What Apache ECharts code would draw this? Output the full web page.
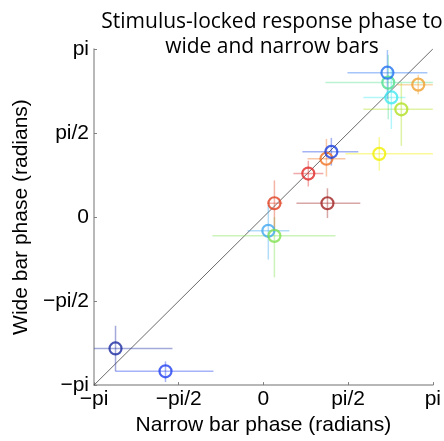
<!DOCTYPE html>
<html>
<head>
<meta charset="utf-8">
<script src="https://cdn.jsdelivr.net/npm/echarts@6/dist/echarts.min.js"></script>
<style>
  html, body { margin: 0; padding: 0; background: #fff; }
  #chart { width: 444px; height: 441px; }
</style>
</head>
<body>
<div id="chart"></div>
<script>
// phases in units of pi (axis runs -1..1 => -pi..pi)
var tickLabels = ['\u2212pi', '\u2212pi/2', '0', 'pi/2', 'pi']
var narrowPhase = [-0.873, -0.578, 0.029, 0.065, 0.065, 0.265, 0.372, 0.401, 0.378, 0.684, 0.814, 0.755, 0.737, 0.732, 0.914]
var widePhase = [-0.782, -0.918, -0.082, -0.112, 0.082, 0.259, 0.347, 0.388, 0.082, 0.376, 0.641, 0.712, 0.800, 0.859, 0.788]
var narrowLo = [-1.0, -0.873, -0.094, -0.301, 0.024, 0.177, 0.260, 0.230, 0.195, 0.484, 0.590, 0.590, 0.366, 0.496, 0.790]
var narrowHi = [-0.537, -0.295, 0.153, 0.425, 0.112, 0.354, 0.484, 0.560, 0.572, 1.0, 1.0, 0.838, 1.0, 0.968, 1.0]
var wideLo = [-0.918, -0.982, -0.253, -0.359, -0.076, 0.182, 0.241, 0.306, -0.006, 0.276, 0.424, 0.524, 0.582, 0.700, 0.730]
var wideHi = [-0.647, -0.859, 0.071, 0.0, 0.218, 0.335, 0.465, 0.471, 0.171, 0.476, 0.800, 0.876, 0.965, 0.994, 0.847]
var colors = ['#1a2aa0', '#2040f0', '#40a8f0', '#80e050', '#e04020', '#e02828', '#f07020', '#1840e0',
  '#a02020', '#f0f000', '#b0e020', '#40e8f0', '#50e090', '#2070f0', '#f0a030']

var myChart = echarts.init(document.getElementById('chart'))

var pts = []
var circles = []
for (var i = 0; i < narrowPhase.length; i++) {
  pts.push([narrowPhase[i], widePhase[i], narrowLo[i], narrowHi[i], wideLo[i], wideHi[i]])
  circles.push({
    value: [narrowPhase[i], widePhase[i]],
    itemStyle: { borderColor: colors[i] }
  })
}

function tickFmt (v) {
  return tickLabels[Math.round((v + 1) * 2)]
}

// error crosses: horizontal = narrow bar spread, vertical = wide bar spread
function renderErr (params, api) {
  var x = api.value(0)
  var y = api.value(1)
  var h0 = api.coord([api.value(2), y])
  var h1 = api.coord([api.value(3), y])
  var v0 = api.coord([x, api.value(4)])
  var v1 = api.coord([x, api.value(5)])
  var st = { stroke: colors[params.dataIndex], lineWidth: 1.5, opacity: 0.4 }
  return {
    type: 'group',
    children: [
      { type: 'line', shape: { x1: h0[0], y1: h0[1], x2: h1[0], y2: h1[1] }, style: st },
      { type: 'line', shape: { x1: v0[0], y1: v0[1], x2: v1[0], y2: v1[1] }, style: st }
    ]
  }
}

var axisCommon = {
  type: 'value',
  min: -1,
  max: 1,
  interval: 0.5,
  splitLine: { show: false },
  axisLine: { onZero: false, lineStyle: { color: '#a0a0a0', width: 1.5 } },
  axisTick: { inside: true, length: 3, lineStyle: { color: '#808080' } },
  axisLabel: { formatter: tickFmt, color: '#000', fontSize: 21, fontFamily: 'Liberation Sans' },
  nameLocation: 'middle',
  nameTextStyle: { color: '#000', fontSize: 21, fontFamily: 'Liberation Sans' }
}

var option = {
  animation: false,
  title: {
    text: 'Stimulus-locked response phase to\nwide and narrow bars',
    left: 267,
    top: 5,
    textAlign: 'center',
    textStyle: { fontFamily: 'Open Sans', fontWeight: 'normal', fontSize: 21, color: '#000', lineHeight: 25 }
  },
  grid: { left: 94, right: 11, top: 49, bottom: 52 },
  xAxis: Object.assign({}, axisCommon, {
    name: 'Narrow bar phase (radians)',
    nameGap: 27,
    axisLabel: Object.assign({}, axisCommon.axisLabel, { margin: 4 })
  }),
  yAxis: Object.assign({}, axisCommon, {
    name: 'Wide bar phase (radians)',
    nameGap: 62,
    axisLabel: Object.assign({}, axisCommon.axisLabel, { margin: 5 })
  }),
  series: [
    {
      type: 'line',
      data: [[-1, -1], [1, 1]],
      symbol: 'none',
      lineStyle: { color: '#444', width: 0.8 },
      z: 1
    },
    {
      type: 'custom',
      renderItem: renderErr,
      data: pts,
      z: 2
    },
    {
      type: 'scatter',
      data: circles,
      symbol: 'circle',
      symbolSize: 12,
      itemStyle: { color: 'rgba(0,0,0,0)', borderWidth: 2.2 },
      z: 3
    }
  ]
}

myChart.setOption(option)
</script>
</body>
</html>
